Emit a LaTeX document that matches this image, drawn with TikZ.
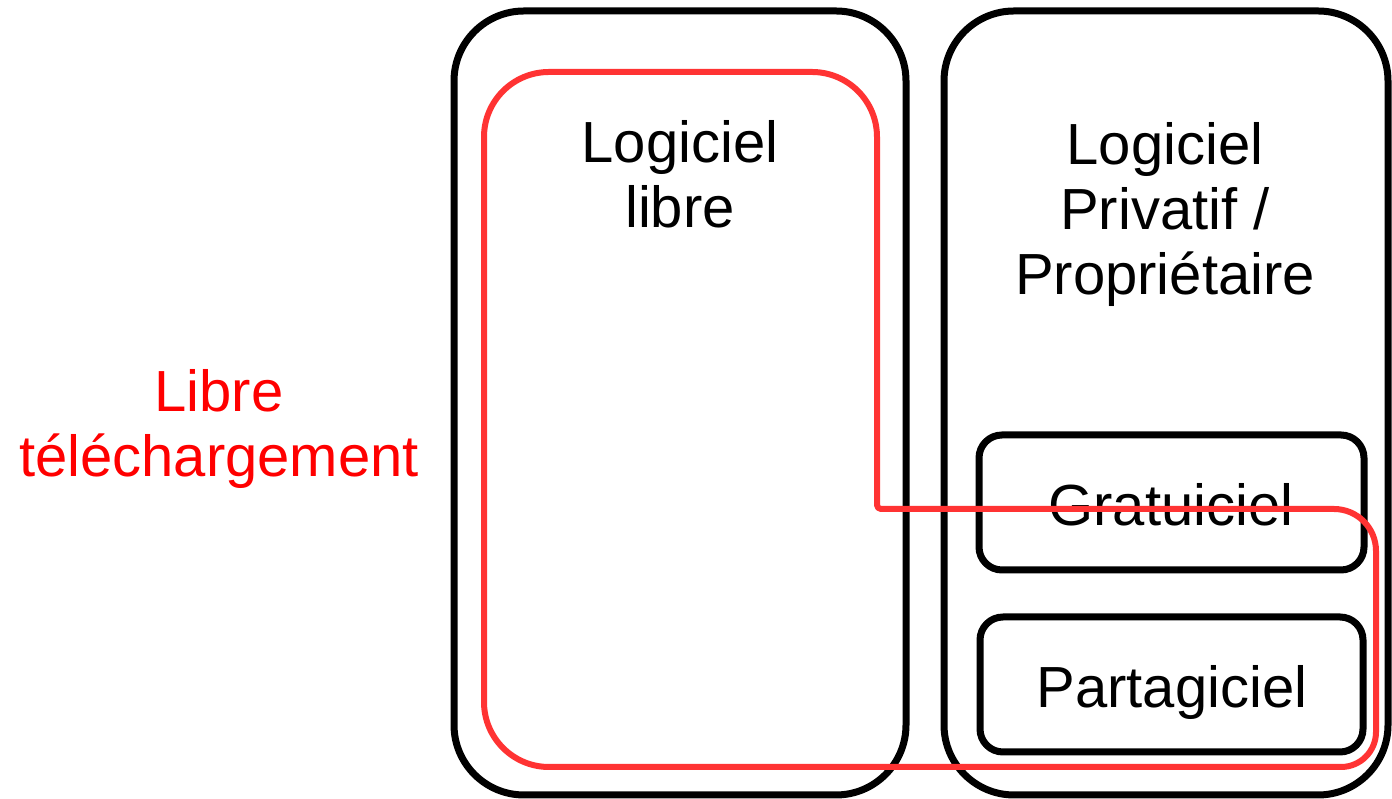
\documentclass[tikz,border=0pt]{standalone}
\usepackage{fontspec}
\setmainfont{Liberation Sans}
\definecolor{pathred}{RGB}{255,51,51}
\definecolor{textred}{RGB}{255,0,0}
\tikzset{
  bigbox/.style={draw=black, line width=7pt, rounded corners=70pt, inner sep=0pt, outer sep=0pt},
  smallbox/.style={draw=black, line width=7pt, rounded corners=23pt, inner sep=0pt, outer sep=0pt},
  lbl/.style={font=\fontsize{58}{65}\selectfont, align=center, anchor=base, inner sep=0pt},
  redline/.style={draw=pathred, line width=6pt, line join=round}
}
\begin{document}
\begin{tikzpicture}[x=1pt,y=1pt]
\useasboundingbox (0,0) rectangle (1392,799);
% boxes
\node[bigbox, minimum width=452pt, minimum height=784pt] (libre) at (680,396) {};
\node[bigbox, minimum width=444pt, minimum height=784pt] (priv) at (1166,396) {};
\node[smallbox, minimum width=385pt, minimum height=135pt] (grat) at (1171.5,296.5) {};
\node[smallbox, minimum width=383pt, minimum height=135pt] (part) at (1171.5,114.5) {};
% labels (base anchor = baseline of the last line)
\node[lbl] (tlibre) at (680,571) {Logiciel\\libre};
\node[lbl] (tpriv) at (1165,504) {Logiciel\\Privatif /\\Propriétaire};
\node[lbl] (tgrat) at (1171,273) {Gratuiciel};
\node[lbl] (tpart) at (1172,91) {Partagiciel};
\node[lbl, text=textred] (tdl) at (219,322) {Libre\\téléchargement};
% red outline
\draw[redline] (484,100) -- (484,662) arc[start angle=180,end angle=90,radius=65]
  -- (812,727) arc[start angle=90,end angle=0,radius=65]
  -- (877,294) arc[start angle=180,end angle=270,radius=4]
  -- (1334,290) arc[start angle=90,end angle=0,radius=42]
  -- (1376,67) arc[start angle=0,end angle=-90,radius=35]
  -- (549,32) arc[start angle=270,end angle=180,radius=65] -- cycle;
\end{tikzpicture}
\end{document}
